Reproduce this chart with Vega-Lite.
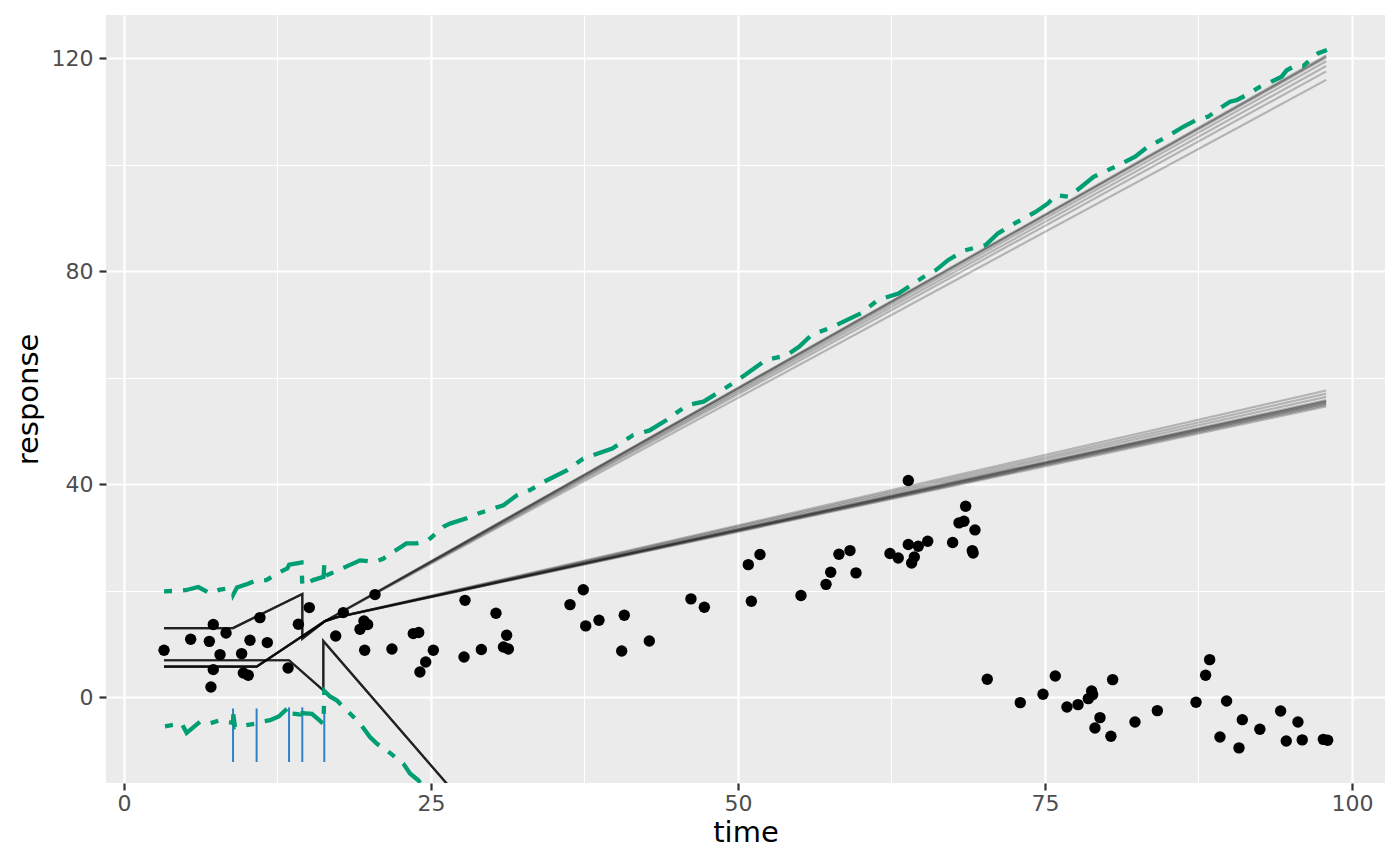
{
  "$schema": "https://vega.github.io/schema/vega-lite/v6.json",
  "width": 1279,
  "height": 768,
  "autosize": "none",
  "padding": {"left": 106, "top": 15, "right": 15, "bottom": 83},
  "background": "#FFFFFF",
  "config": {
    "view": {"fill": "#EBEBEB", "stroke": null},
    "axis": {
      "domain": false,
      "gridColor": "#FFFFFF",
      "gridWidth": 2.2,
      "tickColor": "#333333",
      "tickWidth": 2.2,
      "tickSize": 7,
      "labelColor": "#4D4D4D",
      "labelFont": "DejaVu Sans",
      "labelFontSize": 22,
      "titleFont": "DejaVu Sans",
      "titleFontSize": 29,
      "titleFontWeight": "normal",
      "titleColor": "#000000"
    }
  },
  "datasets": {
    "points": [
      {"time": 3.26, "response": 8.83}, {"time": 5.43, "response": 10.89}, {"time": 6.95, "response": 10.5},
      {"time": 7.27, "response": 13.65}, {"time": 8.31, "response": 12.08}, {"time": 7.82, "response": 8.01},
      {"time": 7.27, "response": 5.2}, {"time": 7.08, "response": 1.94}, {"time": 9.58, "response": 8.2},
      {"time": 10.26, "response": 10.7}, {"time": 11.07, "response": 14.96}, {"time": 11.67, "response": 10.27},
      {"time": 9.72, "response": 4.57}, {"time": 10.12, "response": 4.13}, {"time": 13.36, "response": 5.5},
      {"time": 14.2, "response": 13.7}, {"time": 15.09, "response": 16.84}, {"time": 17.24, "response": 11.5},
      {"time": 17.86, "response": 15.9}, {"time": 20.44, "response": 19.28}, {"time": 19.54, "response": 14.33},
      {"time": 19.84, "response": 13.65}, {"time": 19.22, "response": 12.77}, {"time": 19.6, "response": 8.83},
      {"time": 21.82, "response": 9.07}, {"time": 23.56, "response": 11.96}, {"time": 24.0, "response": 12.15},
      {"time": 25.19, "response": 8.83}, {"time": 24.57, "response": 6.63}, {"time": 24.1, "response": 4.75},
      {"time": 27.77, "response": 18.2}, {"time": 27.69, "response": 7.57}, {"time": 29.1, "response": 8.96},
      {"time": 30.29, "response": 15.77}, {"time": 31.16, "response": 11.64}, {"time": 30.9, "response": 9.45},
      {"time": 31.3, "response": 9.07}, {"time": 36.32, "response": 17.4}, {"time": 37.4, "response": 20.2},
      {"time": 37.6, "response": 13.4}, {"time": 38.68, "response": 14.46}, {"time": 40.74, "response": 15.4},
      {"time": 40.53, "response": 8.7}, {"time": 42.78, "response": 10.57}, {"time": 46.17, "response": 18.47},
      {"time": 47.26, "response": 16.9}, {"time": 50.84, "response": 24.9}, {"time": 51.79, "response": 26.8},
      {"time": 51.09, "response": 18.03}, {"time": 55.13, "response": 19.1}, {"time": 57.17, "response": 21.2},
      {"time": 57.55, "response": 23.47}, {"time": 58.22, "response": 26.85}, {"time": 59.12, "response": 27.54},
      {"time": 59.61, "response": 23.35}, {"time": 62.38, "response": 26.98}, {"time": 63.05, "response": 26.16},
      {"time": 63.87, "response": 40.7}, {"time": 63.87, "response": 28.68}, {"time": 64.68, "response": 28.36},
      {"time": 65.45, "response": 29.3}, {"time": 64.36, "response": 26.35}, {"time": 64.14, "response": 25.22},
      {"time": 67.48, "response": 29.05}, {"time": 68.0, "response": 32.74}, {"time": 68.4, "response": 33.05},
      {"time": 68.54, "response": 35.87}, {"time": 69.3, "response": 31.42}, {"time": 69.08, "response": 27.54},
      {"time": 69.15, "response": 27.1}, {"time": 70.3, "response": 3.38}, {"time": 72.99, "response": -1.0},
      {"time": 74.84, "response": 0.56}, {"time": 75.84, "response": 4.0}, {"time": 76.79, "response": -1.82},
      {"time": 77.69, "response": -1.38}, {"time": 78.8, "response": 1.18}, {"time": 78.88, "response": 0.5},
      {"time": 78.53, "response": -0.25}, {"time": 79.48, "response": -3.82}, {"time": 79.07, "response": -5.76},
      {"time": 80.51, "response": 3.32}, {"time": 80.37, "response": -7.32}, {"time": 82.33, "response": -4.63},
      {"time": 84.15, "response": -2.5}, {"time": 87.3, "response": -0.94}, {"time": 88.08, "response": 4.13},
      {"time": 88.41, "response": 7.07}, {"time": 89.79, "response": -0.69}, {"time": 89.25, "response": -7.45},
      {"time": 91.07, "response": -4.2}, {"time": 90.8, "response": -9.5}, {"time": 92.5, "response": -6.0},
      {"time": 94.19, "response": -2.57}, {"time": 94.65, "response": -8.2}, {"time": 95.6, "response": -4.63},
      {"time": 95.95, "response": -8.0}, {"time": 97.67, "response": -7.9}, {"time": 98.02, "response": -8.07}
    ],
    "draws": [
      {"draw": 1, "i": 1, "time": 3.26, "response": 13.0}, {"draw": 1, "i": 2, "time": 8.88, "response": 13.0}, {"draw": 1, "i": 3, "time": 14.52, "response": 19.4}, {"draw": 1, "i": 4, "time": 14.52, "response": 11.0}, {"draw": 1, "i": 5, "time": 16.37, "response": 14.3}, {"draw": 1, "i": 6, "time": 97.9, "response": 120.5},
      {"draw": 2, "i": 1, "time": 3.26, "response": 13.0}, {"draw": 2, "i": 2, "time": 8.88, "response": 13.0}, {"draw": 2, "i": 3, "time": 14.52, "response": 19.4}, {"draw": 2, "i": 4, "time": 14.52, "response": 11.0}, {"draw": 2, "i": 5, "time": 16.37, "response": 14.3}, {"draw": 2, "i": 6, "time": 97.9, "response": 120.3},
      {"draw": 3, "i": 1, "time": 3.26, "response": 13.0}, {"draw": 3, "i": 2, "time": 8.88, "response": 13.0}, {"draw": 3, "i": 3, "time": 14.52, "response": 19.4}, {"draw": 3, "i": 4, "time": 14.52, "response": 11.0}, {"draw": 3, "i": 5, "time": 16.37, "response": 14.3}, {"draw": 3, "i": 6, "time": 97.9, "response": 120.1},
      {"draw": 4, "i": 1, "time": 3.26, "response": 13.0}, {"draw": 4, "i": 2, "time": 8.88, "response": 13.0}, {"draw": 4, "i": 3, "time": 14.52, "response": 19.4}, {"draw": 4, "i": 4, "time": 14.52, "response": 11.0}, {"draw": 4, "i": 5, "time": 16.37, "response": 14.3}, {"draw": 4, "i": 6, "time": 97.9, "response": 119.4},
      {"draw": 5, "i": 1, "time": 3.26, "response": 13.0}, {"draw": 5, "i": 2, "time": 8.88, "response": 13.0}, {"draw": 5, "i": 3, "time": 14.52, "response": 19.4}, {"draw": 5, "i": 4, "time": 14.52, "response": 11.0}, {"draw": 5, "i": 5, "time": 16.37, "response": 14.3}, {"draw": 5, "i": 6, "time": 97.9, "response": 118.5},
      {"draw": 6, "i": 1, "time": 3.26, "response": 13.0}, {"draw": 6, "i": 2, "time": 8.88, "response": 13.0}, {"draw": 6, "i": 3, "time": 14.52, "response": 19.4}, {"draw": 6, "i": 4, "time": 14.52, "response": 11.0}, {"draw": 6, "i": 5, "time": 16.37, "response": 14.3}, {"draw": 6, "i": 6, "time": 97.9, "response": 117.5},
      {"draw": 7, "i": 1, "time": 3.26, "response": 13.0}, {"draw": 7, "i": 2, "time": 8.88, "response": 13.0}, {"draw": 7, "i": 3, "time": 14.52, "response": 19.4}, {"draw": 7, "i": 4, "time": 14.52, "response": 11.0}, {"draw": 7, "i": 5, "time": 16.37, "response": 14.3}, {"draw": 7, "i": 6, "time": 97.9, "response": 115.9},
      {"draw": 8, "i": 1, "time": 3.26, "response": 5.75}, {"draw": 8, "i": 2, "time": 10.8, "response": 5.75}, {"draw": 8, "i": 3, "time": 16.37, "response": 14.3}, {"draw": 8, "i": 4, "time": 17.3, "response": 15.0}, {"draw": 8, "i": 5, "time": 97.9, "response": 57.6},
      {"draw": 9, "i": 1, "time": 3.26, "response": 5.75}, {"draw": 9, "i": 2, "time": 10.8, "response": 5.75}, {"draw": 9, "i": 3, "time": 16.37, "response": 14.3}, {"draw": 9, "i": 4, "time": 17.3, "response": 15.0}, {"draw": 9, "i": 5, "time": 97.9, "response": 57.0},
      {"draw": 10, "i": 1, "time": 3.26, "response": 5.75}, {"draw": 10, "i": 2, "time": 10.8, "response": 5.75}, {"draw": 10, "i": 3, "time": 16.37, "response": 14.3}, {"draw": 10, "i": 4, "time": 17.3, "response": 15.0}, {"draw": 10, "i": 5, "time": 97.9, "response": 56.4},
      {"draw": 11, "i": 1, "time": 3.26, "response": 5.75}, {"draw": 11, "i": 2, "time": 10.8, "response": 5.75}, {"draw": 11, "i": 3, "time": 16.37, "response": 14.3}, {"draw": 11, "i": 4, "time": 17.3, "response": 15.0}, {"draw": 11, "i": 5, "time": 97.9, "response": 55.8},
      {"draw": 12, "i": 1, "time": 3.26, "response": 5.75}, {"draw": 12, "i": 2, "time": 10.8, "response": 5.75}, {"draw": 12, "i": 3, "time": 16.37, "response": 14.3}, {"draw": 12, "i": 4, "time": 17.3, "response": 15.0}, {"draw": 12, "i": 5, "time": 97.9, "response": 55.6},
      {"draw": 13, "i": 1, "time": 3.26, "response": 5.75}, {"draw": 13, "i": 2, "time": 10.8, "response": 5.75}, {"draw": 13, "i": 3, "time": 16.37, "response": 14.3}, {"draw": 13, "i": 4, "time": 17.3, "response": 15.0}, {"draw": 13, "i": 5, "time": 97.9, "response": 55.5},
      {"draw": 14, "i": 1, "time": 3.26, "response": 5.75}, {"draw": 14, "i": 2, "time": 10.8, "response": 5.75}, {"draw": 14, "i": 3, "time": 16.37, "response": 14.3}, {"draw": 14, "i": 4, "time": 17.3, "response": 15.0}, {"draw": 14, "i": 5, "time": 97.9, "response": 55.3},
      {"draw": 15, "i": 1, "time": 3.26, "response": 5.75}, {"draw": 15, "i": 2, "time": 10.8, "response": 5.75}, {"draw": 15, "i": 3, "time": 16.37, "response": 14.3}, {"draw": 15, "i": 4, "time": 17.3, "response": 15.0}, {"draw": 15, "i": 5, "time": 97.9, "response": 55.1},
      {"draw": 16, "i": 1, "time": 3.26, "response": 5.75}, {"draw": 16, "i": 2, "time": 10.8, "response": 5.75}, {"draw": 16, "i": 3, "time": 16.37, "response": 14.3}, {"draw": 16, "i": 4, "time": 17.3, "response": 15.0}, {"draw": 16, "i": 5, "time": 97.9, "response": 54.9},
      {"draw": 17, "i": 1, "time": 3.26, "response": 5.75}, {"draw": 17, "i": 2, "time": 10.8, "response": 5.75}, {"draw": 17, "i": 3, "time": 16.37, "response": 14.3}, {"draw": 17, "i": 4, "time": 17.3, "response": 15.0}, {"draw": 17, "i": 5, "time": 97.9, "response": 54.6},
      {"draw": 18, "i": 1, "time": 3.26, "response": 6.95}, {"draw": 18, "i": 2, "time": 13.44, "response": 6.95}, {"draw": 18, "i": 3, "time": 16.23, "response": 1.3}, {"draw": 18, "i": 4, "time": 16.23, "response": 10.57}, {"draw": 18, "i": 5, "time": 30.0, "response": -26.1},
      {"draw": 19, "i": 1, "time": 3.26, "response": 6.95}, {"draw": 19, "i": 2, "time": 13.44, "response": 6.95}, {"draw": 19, "i": 3, "time": 16.23, "response": 1.3}, {"draw": 19, "i": 4, "time": 16.23, "response": 10.57}, {"draw": 19, "i": 5, "time": 30.0, "response": -26.1},
      {"draw": 20, "i": 1, "time": 3.26, "response": 6.95}, {"draw": 20, "i": 2, "time": 13.44, "response": 6.95}, {"draw": 20, "i": 3, "time": 16.23, "response": 1.3}, {"draw": 20, "i": 4, "time": 16.23, "response": 10.57}, {"draw": 20, "i": 5, "time": 30.0, "response": -26.1},
      {"draw": 21, "i": 1, "time": 3.26, "response": 6.95}, {"draw": 21, "i": 2, "time": 13.44, "response": 6.95}, {"draw": 21, "i": 3, "time": 16.23, "response": 1.3}, {"draw": 21, "i": 4, "time": 16.23, "response": 10.57}, {"draw": 21, "i": 5, "time": 30.0, "response": -26.1},
      {"draw": 22, "i": 1, "time": 3.26, "response": 6.95}, {"draw": 22, "i": 2, "time": 13.44, "response": 6.95}, {"draw": 22, "i": 3, "time": 16.23, "response": 1.3}, {"draw": 22, "i": 4, "time": 16.23, "response": 10.57}, {"draw": 22, "i": 5, "time": 30.0, "response": -26.1},
      {"draw": 23, "i": 1, "time": 3.26, "response": 6.95}, {"draw": 23, "i": 2, "time": 13.44, "response": 6.95}, {"draw": 23, "i": 3, "time": 16.23, "response": 1.3}, {"draw": 23, "i": 4, "time": 16.23, "response": 10.57}, {"draw": 23, "i": 5, "time": 30.0, "response": -26.1},
      {"draw": 24, "i": 1, "time": 3.26, "response": 6.95}, {"draw": 24, "i": 2, "time": 13.44, "response": 6.95}, {"draw": 24, "i": 3, "time": 16.23, "response": 1.3}, {"draw": 24, "i": 4, "time": 16.23, "response": 10.57}, {"draw": 24, "i": 5, "time": 30.0, "response": -26.1}
    ],
    "quantiles": [
      {"q": "upper", "i": 1, "time": 3.26, "response": 19.9}, {"q": "upper", "i": 2, "time": 4.5, "response": 20.0}, {"q": "upper", "i": 3, "time": 5.0, "response": 20.1},
      {"q": "upper", "i": 4, "time": 6.05, "response": 20.7}, {"q": "upper", "i": 5, "time": 7.0, "response": 19.5}, {"q": "upper", "i": 6, "time": 7.8, "response": 20.2},
      {"q": "upper", "i": 7, "time": 8.4, "response": 20.4}, {"q": "upper", "i": 8, "time": 8.85, "response": 20.0}, {"q": "upper", "i": 9, "time": 8.9, "response": 19.3},
      {"q": "upper", "i": 10, "time": 9.2, "response": 20.6}, {"q": "upper", "i": 11, "time": 10.1, "response": 21.3}, {"q": "upper", "i": 12, "time": 10.8, "response": 22.0},
      {"q": "upper", "i": 13, "time": 11.6, "response": 22.0}, {"q": "upper", "i": 14, "time": 12.5, "response": 23.3}, {"q": "upper", "i": 15, "time": 13.3, "response": 24.2},
      {"q": "upper", "i": 16, "time": 13.45, "response": 24.9}, {"q": "upper", "i": 17, "time": 14.45, "response": 25.3}, {"q": "upper", "i": 18, "time": 14.52, "response": 21.0},
      {"q": "upper", "i": 19, "time": 15.4, "response": 22.0}, {"q": "upper", "i": 20, "time": 16.25, "response": 22.6}, {"q": "upper", "i": 21, "time": 16.31, "response": 24.8},
      {"q": "upper", "i": 22, "time": 16.4, "response": 22.8}, {"q": "upper", "i": 23, "time": 17.45, "response": 23.85}, {"q": "upper", "i": 24, "time": 19.22, "response": 25.7},
      {"q": "upper", "i": 25, "time": 20.44, "response": 25.4}, {"q": "upper", "i": 26, "time": 21.1, "response": 26.0}, {"q": "upper", "i": 27, "time": 21.93, "response": 27.3},
      {"q": "upper", "i": 28, "time": 23.0, "response": 28.9}, {"q": "upper", "i": 29, "time": 23.84, "response": 28.9}, {"q": "upper", "i": 30, "time": 24.78, "response": 29.5},
      {"q": "upper", "i": 31, "time": 26.0, "response": 32.0}, {"q": "upper", "i": 32, "time": 26.55, "response": 32.6}, {"q": "upper", "i": 33, "time": 27.9, "response": 33.6},
      {"q": "upper", "i": 34, "time": 28.85, "response": 34.5}, {"q": "upper", "i": 35, "time": 30.9, "response": 36.06}, {"q": "upper", "i": 36, "time": 31.98, "response": 37.9},
      {"q": "upper", "i": 37, "time": 33.06, "response": 38.9}, {"q": "upper", "i": 38, "time": 34.15, "response": 40.4}, {"q": "upper", "i": 39, "time": 36.05, "response": 42.6},
      {"q": "upper", "i": 40, "time": 37.39, "response": 44.8}, {"q": "upper", "i": 41, "time": 39.76, "response": 46.7}, {"q": "upper", "i": 42, "time": 41.45, "response": 49.2},
      {"q": "upper", "i": 43, "time": 42.8, "response": 50.1}, {"q": "upper", "i": 44, "time": 44.15, "response": 52.0}, {"q": "upper", "i": 45, "time": 45.84, "response": 54.8},
      {"q": "upper", "i": 46, "time": 47.19, "response": 55.5}, {"q": "upper", "i": 47, "time": 49.56, "response": 58.9}, {"q": "upper", "i": 48, "time": 50.57, "response": 60.5},
      {"q": "upper", "i": 49, "time": 52.26, "response": 63.3}, {"q": "upper", "i": 50, "time": 53.95, "response": 64.2}, {"q": "upper", "i": 51, "time": 54.97, "response": 65.8},
      {"q": "upper", "i": 52, "time": 55.98, "response": 68.0}, {"q": "upper", "i": 53, "time": 57.67, "response": 69.5}, {"q": "upper", "i": 54, "time": 58.85, "response": 70.8},
      {"q": "upper", "i": 55, "time": 60.03, "response": 72.1}, {"q": "upper", "i": 56, "time": 61.38, "response": 74.55}, {"q": "upper", "i": 57, "time": 63.07, "response": 75.8},
      {"q": "upper", "i": 58, "time": 65.1, "response": 78.9}, {"q": "upper", "i": 59, "time": 66.12, "response": 80.2}, {"q": "upper", "i": 60, "time": 67.13, "response": 82.1},
      {"q": "upper", "i": 61, "time": 68.48, "response": 83.9}, {"q": "upper", "i": 62, "time": 70.17, "response": 84.9}, {"q": "upper", "i": 63, "time": 71.18, "response": 87.1},
      {"q": "upper", "i": 64, "time": 72.53, "response": 88.96}, {"q": "upper", "i": 65, "time": 74.23, "response": 91.1}, {"q": "upper", "i": 66, "time": 75.24, "response": 92.7},
      {"q": "upper", "i": 67, "time": 75.91, "response": 94.3}, {"q": "upper", "i": 68, "time": 76.93, "response": 93.95}, {"q": "upper", "i": 69, "time": 77.94, "response": 95.8},
      {"q": "upper", "i": 70, "time": 78.96, "response": 97.7}, {"q": "upper", "i": 71, "time": 80.99, "response": 99.9}, {"q": "upper", "i": 72, "time": 82.34, "response": 101.5},
      {"q": "upper", "i": 73, "time": 83.35, "response": 103.3}, {"q": "upper", "i": 74, "time": 84.9, "response": 105.2}, {"q": "upper", "i": 75, "time": 86.26, "response": 107.1},
      {"q": "upper", "i": 76, "time": 87.35, "response": 108.4}, {"q": "upper", "i": 77, "time": 88.3, "response": 109.0}, {"q": "upper", "i": 78, "time": 89.25, "response": 110.6},
      {"q": "upper", "i": 79, "time": 90.07, "response": 111.8}, {"q": "upper", "i": 80, "time": 90.6, "response": 112.1}, {"q": "upper", "i": 81, "time": 91.4, "response": 113.05},
      {"q": "upper", "i": 82, "time": 92.5, "response": 114.6}, {"q": "upper", "i": 83, "time": 93.3, "response": 115.4}, {"q": "upper", "i": 84, "time": 94.27, "response": 116.5},
      {"q": "upper", "i": 85, "time": 94.68, "response": 117.7}, {"q": "upper", "i": 86, "time": 95.5, "response": 118.7}, {"q": "upper", "i": 87, "time": 96.03, "response": 118.5},
      {"q": "upper", "i": 88, "time": 96.58, "response": 119.6}, {"q": "upper", "i": 89, "time": 97.26, "response": 120.9}, {"q": "upper", "i": 90, "time": 97.96, "response": 121.5},
      {"q": "lower", "i": 1, "time": 3.34, "response": -5.45}, {"q": "lower", "i": 2, "time": 4.7, "response": -4.9}, {"q": "lower", "i": 3, "time": 5.1, "response": -6.7},
      {"q": "lower", "i": 4, "time": 6.19, "response": -4.6}, {"q": "lower", "i": 5, "time": 7.0, "response": -4.9}, {"q": "lower", "i": 6, "time": 7.82, "response": -4.3},
      {"q": "lower", "i": 7, "time": 8.88, "response": -4.8}, {"q": "lower", "i": 8, "time": 8.9, "response": -3.2}, {"q": "lower", "i": 9, "time": 9.04, "response": -5.6},
      {"q": "lower", "i": 10, "time": 10.8, "response": -4.9}, {"q": "lower", "i": 11, "time": 11.07, "response": -4.6}, {"q": "lower", "i": 12, "time": 11.9, "response": -4.3},
      {"q": "lower", "i": 13, "time": 12.6, "response": -3.6}, {"q": "lower", "i": 14, "time": 13.4, "response": -1.9}, {"q": "lower", "i": 15, "time": 13.5, "response": -3.0},
      {"q": "lower", "i": 16, "time": 14.3, "response": -3.2}, {"q": "lower", "i": 17, "time": 14.5, "response": -1.8}, {"q": "lower", "i": 18, "time": 14.55, "response": -3.0},
      {"q": "lower", "i": 19, "time": 15.3, "response": -3.1}, {"q": "lower", "i": 20, "time": 15.9, "response": -4.3}, {"q": "lower", "i": 21, "time": 16.25, "response": -5.0},
      {"q": "lower", "i": 22, "time": 16.31, "response": 1.2}, {"q": "lower", "i": 23, "time": 16.8, "response": 0.1}, {"q": "lower", "i": 24, "time": 17.32, "response": -0.56},
      {"q": "lower", "i": 25, "time": 17.86, "response": -1.82}, {"q": "lower", "i": 26, "time": 19.22, "response": -4.9}, {"q": "lower", "i": 27, "time": 20.03, "response": -7.45},
      {"q": "lower", "i": 28, "time": 20.58, "response": -8.7}, {"q": "lower", "i": 29, "time": 21.39, "response": -9.95}, {"q": "lower", "i": 30, "time": 22.75, "response": -12.45},
      {"q": "lower", "i": 31, "time": 23.29, "response": -14.3}, {"q": "lower", "i": 32, "time": 23.97, "response": -15.6}, {"q": "lower", "i": 33, "time": 25.0, "response": -18.5}
    ],
    "changepoints": [
      {"cp": 1, "time": 8.88, "lo": -12.15, "hi": -2.1},
      {"cp": 2, "time": 10.8, "lo": -12.15, "hi": -2.1},
      {"cp": 3, "time": 13.44, "lo": -12.15, "hi": -1.9},
      {"cp": 4, "time": 14.52, "lo": -12.15, "hi": -1.9},
      {"cp": 5, "time": 16.31, "lo": -12.15, "hi": -2.1}
    ]
  },
  "resolve": {"axis": {"x": "independent", "y": "independent"}},
  "layer": [
    {
      "data": {"name": "changepoints"},
      "mark": {"type": "rule", "color": "#3182C4", "strokeWidth": 2, "clip": true},
      "encoding": {
        "x": {
          "field": "time", "type": "quantitative",
          "scale": {"domain": [-1.466, 102.69], "nice": false, "zero": false},
          "axis": {"orient": "top", "values": [12.5, 37.5, 62.5, 87.5], "grid": true, "gridWidth": 1.1, "ticks": false, "labels": false, "domain": false, "title": null}
        },
        "y": {
          "field": "lo", "type": "quantitative",
          "scale": {"domain": [-16.09, 128.08], "nice": false, "zero": false},
          "axis": {"orient": "right", "values": [20, 60, 100], "grid": true, "gridWidth": 1.1, "ticks": false, "labels": false, "domain": false, "title": null}
        },
        "y2": {"field": "hi"}
      }
    },
    {
      "data": {"name": "draws"},
      "mark": {"type": "line", "color": "#000000", "opacity": 0.24, "strokeWidth": 2.2, "clip": true},
      "encoding": {
        "x": {"field": "time", "type": "quantitative", "axis": null},
        "y": {"field": "response", "type": "quantitative", "axis": null},
        "detail": {"field": "draw", "type": "nominal"},
        "order": {"field": "i", "type": "quantitative"}
      }
    },
    {
      "data": {"name": "quantiles"},
      "mark": {"type": "line", "color": "#009E73", "strokeWidth": 4.3, "strokeDash": [8, 11, 26, 11], "strokeCap": "butt", "clip": true},
      "encoding": {
        "x": {"field": "time", "type": "quantitative", "axis": null},
        "y": {"field": "response", "type": "quantitative", "axis": null},
        "detail": {"field": "q", "type": "nominal"},
        "order": {"field": "i", "type": "quantitative"}
      }
    },
    {
      "data": {"name": "points"},
      "mark": {"type": "circle", "color": "#000000", "opacity": 1, "size": 130},
      "encoding": {
        "x": {
          "field": "time", "type": "quantitative", "title": "time",
          "axis": {"orient": "bottom", "values": [0, 25, 50, 75, 100], "grid": true, "labelPadding": 3, "titlePadding": 4}
        },
        "y": {
          "field": "response", "type": "quantitative", "title": "response",
          "axis": {"orient": "left", "values": [0, 40, 80, 120], "grid": true, "labelPadding": 6, "titlePadding": 8}
        }
      }
    }
  ]
}
